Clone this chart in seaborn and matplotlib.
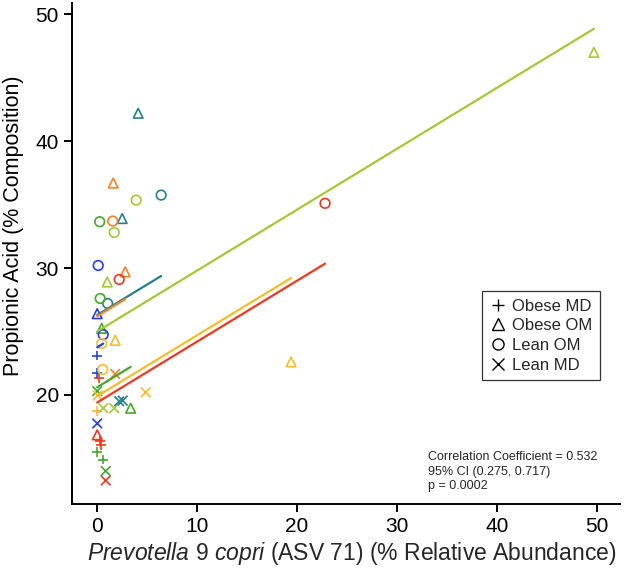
import matplotlib
matplotlib.use("Agg")
import matplotlib.pyplot as plt
import seaborn as sns
import pandas as pd
import numpy as np
from matplotlib.lines import Line2D

sns.set_style("ticks")
plt.rcParams['font.family'] = ['Liberation Sans', 'DejaVu Sans']
plt.rcParams['mathtext.fontset'] = 'custom'
plt.rcParams['mathtext.rm'] = 'Liberation Sans'
plt.rcParams['mathtext.it'] = 'Liberation Sans:italic'

# ---- data ----
groups = ["YG", "TE", "OR", "RD", "BL", "GR", "GD"]
palette = {"YG": "#a6c736", "TE": "#27808c", "OR": "#f5832a", "RD": "#f0391f",
           "BL": "#2440ee", "GR": "#45a82c", "GD": "#f6bd2b"}

pt_group = ["YG", "YG", "YG", "YG", "YG", "YG",
            "TE", "TE", "TE", "TE", "TE", "TE",
            "OR", "OR", "OR", "OR",
            "RD", "RD", "RD", "RD", "RD", "RD", "RD",
            "BL", "BL", "BL", "BL", "BL", "BL",
            "GR", "GR", "GR", "GR", "GR", "GR", "GR", "GR",
            "GD", "GD", "GD", "GD", "GD", "GD", "GD"]
pt_cond = ["Obese OM", "Lean OM", "Lean OM", "Obese OM", "Lean MD", "Lean MD",
           "Obese OM", "Lean OM", "Obese OM", "Lean OM", "Lean MD", "Lean MD",
           "Obese OM", "Lean OM", "Obese OM", "Lean MD",
           "Lean OM", "Lean OM", "Obese MD", "Obese OM", "Obese MD", "Obese MD", "Lean MD",
           "Lean OM", "Obese OM", "Lean OM", "Obese MD", "Obese MD", "Lean MD",
           "Lean OM", "Lean OM", "Obese OM", "Lean MD", "Obese OM", "Obese MD", "Obese MD", "Lean MD",
           "Obese OM", "Lean OM", "Lean OM", "Lean MD", "Obese MD", "Lean MD", "Obese OM"]
pt_x = [49.7, 3.9, 1.7, 1.0, 0.6, 1.7,
        4.1, 6.4, 2.5, 1.05, 2.2, 2.55,
        1.6, 1.55, 2.8, 1.8,
        22.8, 2.2, 0.2, 0.0, 0.3, 0.35, 0.85,
        0.1, 0.0, 0.6, 0.0, 0.0, 0.0,
        0.25, 0.3, 0.45, 0.0, 3.35, 0.0, 0.55, 0.85,
        1.8, 0.45, 0.55, 0.05, 0.0, 4.85, 19.4]
pt_y = [47.0, 35.35, 32.8, 28.9, 18.95, 18.95,
        42.2, 35.75, 33.9, 27.2, 19.5, 19.55,
        36.7, 33.7, 29.7, 21.65,
        35.1, 29.1, 21.3, 16.85, 16.35, 16.05, 13.25,
        30.2, 26.4, 24.75, 23.1, 21.7, 17.75,
        33.65, 27.6, 25.25, 20.3, 18.95, 15.5, 14.9, 14.0,
        24.3, 24.05, 22.0, 19.95, 18.75, 20.2, 22.6]

# fitted lines: common slope, group intercepts
slope = 0.48
intercepts = {"YG": 25.0, "TE": 26.3, "OR": 26.2, "RD": 19.4,
              "BL": 23.75, "GR": 20.6, "GD": 19.9}

conditions = ["Obese MD", "Obese OM", "Lean OM", "Lean MD"]
markers = {"Obese MD": "+", "Obese OM": "^", "Lean OM": "o", "Lean MD": "x"}

stats_text = "Correlation Coefficient = 0.532\n95% CI (0.275, 0.717)\np = 0.0002"

# ---- build tables ----
df = pd.DataFrame({"group": pt_group, "cond": pt_cond, "x": pt_x, "y": pt_y})

rows = []
for g in groups:
    xmax = df.loc[df.group == g, "x"].max()
    for xv in (0.0, xmax):
        rows.append({"group": g, "x": xv, "y": intercepts[g] + slope * xv})
lines_df = pd.DataFrame(rows)

# ---- figure ----
fig = plt.figure(figsize=(6.28, 5.74), dpi=100)
ax = fig.add_axes([0.115, 0.122, 0.872, 0.873])

for cond in conditions:
    sub = df[df.cond == cond]
    m = markers[cond]
    before = len(ax.collections)
    sns.scatterplot(data=sub, x="x", y="y", hue="group", palette=palette,
                    hue_order=groups, marker=m, s=48, linewidth=1.2,
                    legend=False, ax=ax, zorder=3)
    if m in ("^", "o"):
        for coll in ax.collections[before:]:
            fc = coll.get_facecolors()
            coll.set_edgecolors(fc)
            coll.set_facecolors("none")

sns.lineplot(data=lines_df, x="x", y="y", hue="group", palette=palette,
             hue_order=groups, units="group", estimator=None, sort=False,
             linewidth=1.6, legend=False, ax=ax, zorder=4)

ax.set_xlim(-2.5, 52.3)
ax.set_ylim(11.4, 50.9)
ax.set_xticks([0, 10, 20, 30, 40, 50])
ax.set_yticks([20, 30, 40, 50])
ax.tick_params(axis="both", labelsize=15, length=6, width=1.4, direction="out",
               color="black", labelcolor="black")
for s in ("left", "bottom"):
    ax.spines[s].set_linewidth(1.4)
    ax.spines[s].set_color("black")
sns.despine(ax=ax)

ax.set_xlabel("")
ax.set_ylabel("Propionic Acid (% Composition)", fontsize=15.5, color="black")
ax.yaxis.set_label_coords(-0.088, 0.555)
fig.text(0.56, 0.012, r"$\it{Prevotella\ 9\ copri}$ (ASV 71) (% Relative Abundance)",
         ha="center", va="bottom", fontsize=16.5)

handles = [Line2D([], [], linestyle="none", marker=markers[c], color="black",
                  markerfacecolor="none", markersize=8, markeredgewidth=1.0)
           for c in conditions]
leg = ax.legend(handles, conditions, loc="upper left", bbox_to_anchor=(0.748, 0.425),
                fontsize=12, frameon=True, fancybox=False, handletextpad=0.35,
                labelspacing=0.28, handlelength=1.0, borderpad=0.45,
                borderaxespad=0)
leg.get_frame().set_edgecolor("black")
leg.get_frame().set_linewidth(0.9)

ax.text(0.649, 0.023, stats_text, transform=ax.transAxes, fontsize=9,
        va="bottom", ha="left", linespacing=1.3)

fig.savefig("out.png", dpi=100)
